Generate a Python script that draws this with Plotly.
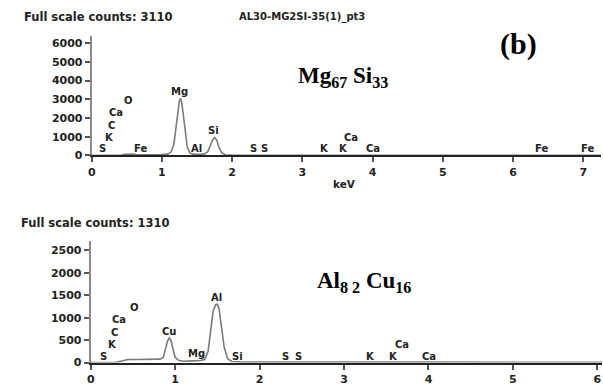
import plotly.graph_objects as go

# ---------------- data ----------------
# Mg67 Si33 spectrum: energy (keV), counts
top_kev = [0.0, 0.15, 0.30, 0.42, 0.48, 0.53, 0.58, 0.64, 0.70, 0.85, 1.00, 1.08, 1.13,
           1.17, 1.20, 1.23, 1.25, 1.265, 1.28, 1.30, 1.33, 1.36, 1.40, 1.45, 1.52,
           1.60, 1.65, 1.69, 1.72, 1.75, 1.78, 1.81, 1.85, 1.90, 2.00, 2.5, 3.0, 4.0,
           5.0, 6.0, 7.0, 7.25]
top_counts = [0, 5, 10, 25, 60, 80, 70, 45, 35, 35, 45, 70, 180,
              600, 1500, 2500, 2950, 3050, 2850, 2300, 1200, 450, 120, 70, 55,
              70, 180, 500, 820, 960, 820, 450, 150, 40, 15, 10, 8, 8,
              6, 6, 5, 5]

# Al82 Cu16 spectrum
bot_kev = [0.0, 0.15, 0.30, 0.38, 0.44, 0.55, 0.70, 0.82, 0.86, 0.89, 0.91, 0.93,
           0.95, 0.97, 1.00, 1.04, 1.10, 1.20, 1.30, 1.35, 1.39, 1.42, 1.45, 1.48,
           1.50, 1.52, 1.55, 1.58, 1.62, 1.67, 1.80, 2.0, 3.0, 4.0, 5.0, 6.06]
bot_counts = [0, 2, 5, 40, 70, 70, 72, 78, 120, 320, 480, 550,
              500, 330, 120, 50, 30, 38, 48, 70, 250, 700, 1150, 1290,
              1300, 1200, 800, 350, 90, 25, 12, 10, 10, 10, 6, 5]

top_yticks = [0, 1000, 2000, 3000, 4000, 5000, 6000]
bot_yticks = [0, 500, 1000, 1500, 2000, 2500]
top_xticks = [0, 1, 2, 3, 4, 5, 6, 7]
bot_xticks = [0, 1, 2, 3, 4, 5, 6]

# element labels: text, energy (keV), label height (counts)
top_lbl_text = ["S", "K", "C", "Ca", "O", "Fe", "Mg", "Al", "Si", "S", "S",
                "K", "K", "Ca", "Ca", "Fe", "Fe"]
top_lbl_kev = [0.15, 0.26, 0.28, 0.34, 0.52, 0.70, 1.25, 1.49, 1.74, 2.31, 2.46,
               3.31, 3.59, 3.69, 4.01, 6.40, 7.06]
top_lbl_counts = [346, 960, 1606, 2273, 2940, 346, 3412, 346, 1344, 346, 346,
                  346, 346, 960, 346, 346, 346]

bot_lbl_text = ["S", "K", "C", "Ca", "O", "Cu", "Mg", "Al", "Si", "S", "S",
                "K", "K", "Ca", "Ca"]
bot_lbl_kev = [0.15, 0.26, 0.28, 0.34, 0.52, 0.93, 1.25, 1.49, 1.74, 2.31, 2.46,
               3.31, 3.59, 3.69, 4.01]
bot_lbl_counts = [131, 407, 678, 968, 1238, 700, 203, 1456, 144, 131, 131,
                  131, 131, 407, 131]

top_full_scale = 3110
bot_full_scale = 1310
sample_name = "AL30-MG2SI-35(1)_pt3"
top_phase = "Mg<sub>67</sub> Si<sub>33</sub>"
bot_phase = "Al<sub>8 2</sub> Cu<sub>16</sub>"

# ---------------- figure ----------------
W, H = 603, 387
SANS = "DejaVu Sans"
SERIF = "Liberation Serif"
LINE = "#7a7a7a"

fig = go.Figure()
fig.add_trace(go.Scatter(x=top_kev, y=top_counts, mode="lines",
                         line=dict(color=LINE, width=1.6), xaxis="x", yaxis="y",
                         showlegend=False, hoverinfo="skip"))
fig.add_trace(go.Scatter(x=bot_kev, y=bot_counts, mode="lines",
                         line=dict(color=LINE, width=1.6), xaxis="x2", yaxis="y2",
                         showlegend=False, hoverinfo="skip"))

def px_x(p):
    return p / W

def px_y(p):
    return (H - p) / H

tickfont = dict(family=SANS, size=11, color="#222", weight="bold")

xcommon = dict(showgrid=False, zeroline=False, showline=True, linecolor="#222",
               linewidth=2, ticks="outside", ticklen=5, tickwidth=1.5,
               tickcolor="#555", tickfont=tickfont, fixedrange=True)
ycommon = dict(showgrid=False, zeroline=False, showline=True, linecolor="#8a8a8a",
               linewidth=2, ticks="outside", ticklen=5, tickwidth=1.5,
               tickcolor="#555", tickfont=tickfont, fixedrange=True)

fig.update_layout(
    width=W, height=H,
    margin=dict(l=0, r=0, t=0, b=0),
    paper_bgcolor="white", plot_bgcolor="white",
    xaxis=dict(domain=[px_x(88.3), px_x(600.9)], range=[0, 7.25], anchor="y",
               tickvals=top_xticks, **xcommon),
    yaxis=dict(domain=[px_y(158.3), px_y(36.4)], range=[0, 6400], anchor="x",
               tickvals=top_yticks, **ycommon),
    xaxis2=dict(domain=[px_x(87.3), px_x(602.4)], range=[0, 6.06], anchor="y2",
                tickvals=bot_xticks, **xcommon),
    yaxis2=dict(domain=[px_y(369.3), px_y(245.8)], range=[0, 2700], anchor="x2",
                tickvals=bot_yticks, **ycommon),
)

ann = []
lblfont = dict(family=SANS, size=10, color="#222", weight="bold")
for t, x, y in zip(top_lbl_text, top_lbl_kev, top_lbl_counts):
    ann.append(dict(text=t, x=x, y=y, xref="x", yref="y", showarrow=False,
                    font=lblfont, xanchor="center", yanchor="middle", borderpad=0))
for t, x, y in zip(bot_lbl_text, bot_lbl_kev, bot_lbl_counts):
    ann.append(dict(text=t, x=x, y=y, xref="x2", yref="y2", showarrow=False,
                    font=lblfont, xanchor="center", yanchor="middle", borderpad=0))

hdr = dict(family=SANS, size=11.5, color="#222", weight="bold")
hdr2 = dict(family=SANS, size=10, color="#222", weight="bold")
ann.append(dict(text=f"Full scale counts: {top_full_scale}", x=px_x(18), y=px_y(17),
                xref="paper", yref="paper", showarrow=False, font=hdr,
                xanchor="left", yanchor="middle"))
ann.append(dict(text=sample_name, x=px_x(235), y=px_y(17),
                xref="paper", yref="paper", showarrow=False, font=hdr2,
                xanchor="left", yanchor="middle"))
ann.append(dict(text=f"Full scale counts: {bot_full_scale}", x=px_x(15), y=px_y(227),
                xref="paper", yref="paper", showarrow=False, font=hdr,
                xanchor="left", yanchor="middle"))
ann.append(dict(text="keV", x=px_x(343), y=px_y(187), xref="paper", yref="paper",
                showarrow=False, font=dict(family=SANS, size=10.5, color="#222", weight="bold"),
                xanchor="center", yanchor="middle"))
ann.append(dict(text="(b)", x=6.08, y=5947, xref="x", yref="y", showarrow=False,
                font=dict(family=SERIF, size=30, color="black", weight="bold"),
                xanchor="center", yanchor="middle"))
ann.append(dict(text=top_phase, x=3.58, y=4200, xref="x", yref="y", showarrow=False,
                font=dict(family=SERIF, size=23, color="black", weight="bold"),
                xanchor="center", yanchor="middle"))
ann.append(dict(text=bot_phase, x=3.24, y=1793, xref="x2", yref="y2", showarrow=False,
                font=dict(family=SERIF, size=23, color="black", weight="bold"),
                xanchor="center", yanchor="middle"))

fig.update_layout(annotations=ann)
fig.write_html("out.html", config={"displayModeBar": False},
               post_script="document.body.style.margin='0';document.body.style.overflow='hidden';")
